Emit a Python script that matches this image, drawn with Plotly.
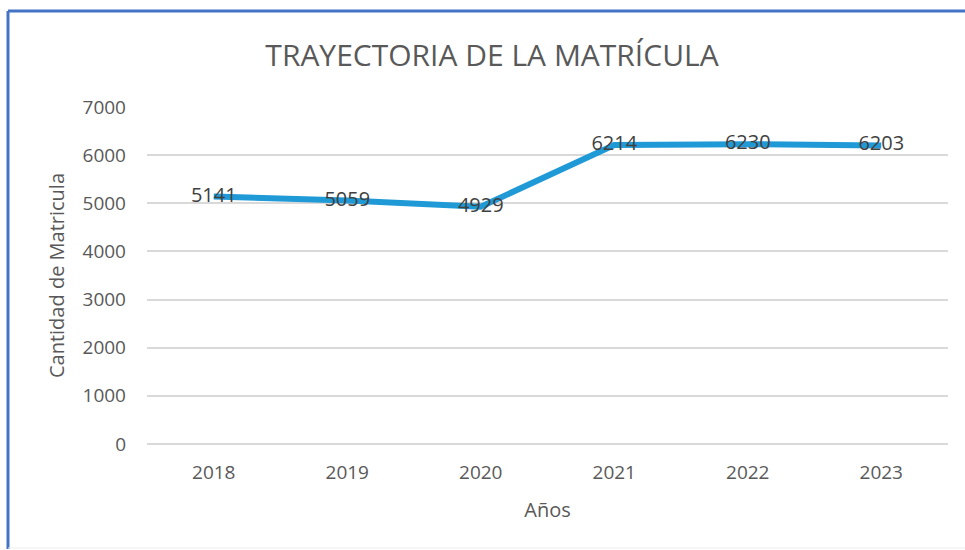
import plotly.graph_objects as go

years = ["2018", "2019", "2020", "2021", "2022", "2023"]
enrollment = [5141, 5059, 4929, 6214, 6230, 6203]
y_ticks = [0, 1000, 2000, 3000, 4000, 5000, 6000, 7000]

FONT = "Open Sans"
GREY = "#595959"

fig = go.Figure()
fig.add_trace(go.Scatter(
    x=years, y=enrollment, mode="lines+text",
    text=[str(v) for v in enrollment], textposition="middle center",
    textfont=dict(family=FONT, size=20, color="#404040"),
    line=dict(color="#1F9AD6", width=6),
    hoverinfo="x+y", showlegend=False,
))

L, R, T, B = 147, 17, 107, 106
W, H = 965, 550
pw, ph = W - L - R, H - T - B

def px(x):
    return (x - L) / pw

def py(y):
    return (H - B - y) / ph

fig.update_layout(
    width=W, height=H,
    margin=dict(l=L, r=R, t=T, b=B),
    paper_bgcolor="white", plot_bgcolor="white",
    title=dict(text="TRAYECTORIA DE LA MATRÍCULA", x=492 / W, xanchor="center",
               y=1 - 55 / H, yanchor="middle",
               font=dict(family=FONT, size=30, color=GREY)),
    xaxis=dict(type="category", range=[-0.5, 5.5], showgrid=False, showline=False, ticks="",
               tickfont=dict(family=FONT, size=19, color=GREY), ticklabelstandoff=15,
               title=dict(text="Años", font=dict(family=FONT, size=20, color=GREY), standoff=18)),
    yaxis=dict(range=[-3, 7003], tickvals=y_ticks, showgrid=True, gridcolor="#D9D9D9",
               gridwidth=2, zeroline=True, zerolinecolor="#D9D9D9", zerolinewidth=2,
               showline=False, ticks="",
               tickfont=dict(family=FONT, size=19, color=GREY), ticklabelstandoff=20,
               title=dict(text="Cantidad de Matricula", font=dict(family=FONT, size=20, color=GREY), standoff=12)),
    shapes=[
        dict(type="line", xref="paper", yref="paper", x0=px(8), x1=px(965), y0=py(11), y1=py(11),
             line=dict(color="#4472C4", width=3)),
        dict(type="line", xref="paper", yref="paper", x0=px(8), x1=px(8), y0=py(11), y1=py(549),
             line=dict(color="#4472C4", width=3)),
        dict(type="line", xref="paper", yref="paper", x0=px(8), x1=px(965), y0=py(548), y1=py(548),
             line=dict(color="#EEEEEE", width=1)),
    ],
)

fig.write_html("out.html", config={"displayModeBar": False},
               post_script="document.body.style.margin='0';document.body.style.overflow='hidden';")
